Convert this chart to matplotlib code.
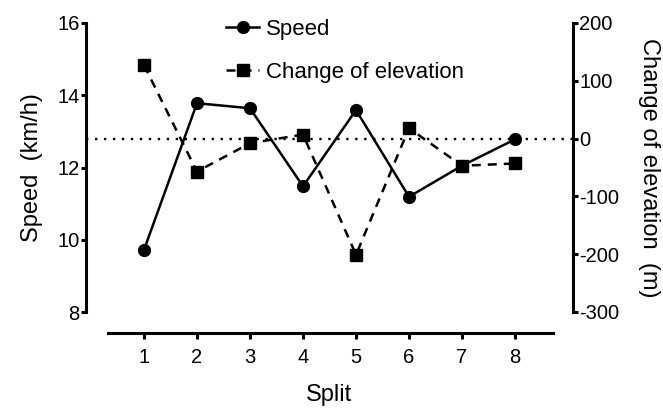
import matplotlib
matplotlib.use("Agg")
import matplotlib.pyplot as plt

plt.rcParams['font.family'] = ['Liberation Sans', 'DejaVu Sans']
plt.rcParams['axes.unicode_minus'] = False

splits = [1, 2, 3, 4, 5, 6, 7, 8]
speed = [9.72, 13.78, 13.64, 11.48, 13.59, 11.19, 12.05, 12.78]
elevation = [127, -57, -8, 7, -201, 18, -47, -43]
x_ticks = [1, 2, 3, 4, 5, 6, 7, 8]
left_ticks = [8, 10, 12, 14, 16]
right_ticks = [-300, -200, -100, 0, 100, 200]

fig = plt.figure(figsize=(6.63, 4.09), dpi=100)
ax = fig.add_axes([86/663, 1-312/409, (573-86)/663, (312-23)/409])
ax2 = ax.twinx()

lw = 1.8
ax.plot(splits, speed, color='black', lw=lw, marker='o', markersize=8.5,
        label='Speed', clip_on=False, zorder=3)
ax2.plot(splits, elevation, color='black', lw=lw, ls=(0, (3.6, 2.8)), marker='s',
         markersize=9, label='Change of elevation', clip_on=False, zorder=3)
ax2.axhline(0, color='black', lw=1.7, ls=(0, (1, 2.8)), zorder=1)

ax.set_xlim(-0.094, 9.094)
ax.set_ylim(8, 16)
ax2.set_ylim(-300, 200)

ax.set_xticks(x_ticks)
ax.set_yticks(left_ticks)
ax2.set_yticks(right_ticks)

for a in (ax, ax2):
    a.spines['top'].set_visible(False)
    for s in a.spines.values():
        s.set_linewidth(2.2)
ax.spines['right'].set_visible(False)
ax2.spines['left'].set_visible(False)
ax2.spines['bottom'].set_visible(False)
ax.spines['bottom'].set_position(('outward', 15))
ax.spines['bottom'].set_bounds(0.32, 8.72)

ax.tick_params(axis='x', width=2.2, length=4, labelsize=14.5, direction='out', pad=7)
ax.tick_params(axis='y', width=2.2, length=3.5, labelsize=14.5, direction='out', pad=1)
ax2.tick_params(axis='y', width=2.2, length=3.5, labelsize=14.5, direction='out', pad=1)

ax.set_ylabel('Speed  (km/h)', fontsize=17, labelpad=10)
ax.set_xlabel('Split', fontsize=17, labelpad=12)
ax2.set_ylabel('Change of elevation  (m)', fontsize=17, rotation=270, labelpad=29)

h1, l1 = ax.get_legend_handles_labels()
h2, l2 = ax2.get_legend_handles_labels()
fig.legend(h1 + h2, l1 + l2, loc='upper left', bbox_to_anchor=(226/663, 1-19/409),
           frameon=False, fontsize=16, handlelength=1.5, handletextpad=0.3,
           labelspacing=1.0, borderpad=0, borderaxespad=0, numpoints=1)

fig.savefig('out.png', dpi=100)
